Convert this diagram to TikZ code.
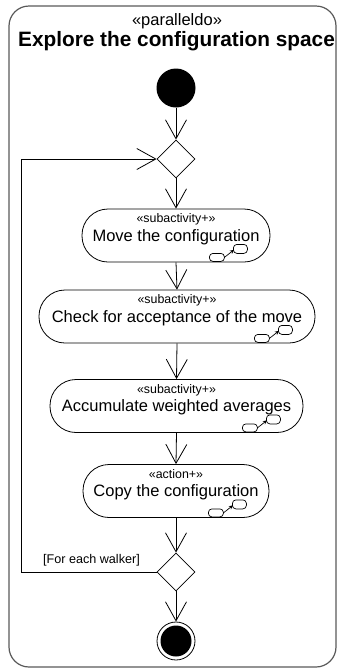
\documentclass[tikz,border=0pt]{standalone}
\usepackage{fontspec}
\setmainfont{Liberation Sans}
\usetikzlibrary{shapes.geometric,arrows.meta,calc}

% small "calls activity" mark in the lower right corner of a box
\newcommand{\subicon}[1]{%
  \draw[icon] ($(#1.south east)+(-61,-9)$) rectangle ++(15,8);
  \draw[icon] ($(#1.south east)+(-37,-18)$) rectangle ++(14,9);
  \draw[icon,-{Stealth[length=4pt,width=4pt]}] ($(#1.south east)+(-46,-5)$) -- ($(#1.south east)+(-36.5,-12.5)$);
}

\begin{document}
\begin{tikzpicture}[x=1pt,y=-1pt]
    \tikzstyle{activity}=[draw, line width=0.8pt, rounded corners=26pt, minimum height=53pt, inner sep=0pt, font=\fontsize{16.5}{18}\selectfont, text height=12pt, text depth=1pt];
    \tikzstyle{stereo}=[font=\fontsize{12.4}{14}\selectfont, anchor=base, inner sep=0pt];
    \tikzstyle{branch}=[draw, line width=0.8pt, diamond, minimum size=38pt, inner sep=0pt];
    \tikzstyle{flow}=[draw, line width=0.8pt, -{Straight Barb[length=19pt,width=21pt]}];
    \tikzstyle{icon}=[draw, line width=0.7pt, rounded corners=3.5pt];
    \useasboundingbox (0,0) rectangle (337,670);
    % frame
    \draw[black!65, line width=1.2pt, rounded corners=20pt] (9,6) rectangle (336,667);
    \node[font=\fontsize{16.5}{18}\selectfont, anchor=base, inner sep=0pt] (kind) at (177,25) {«paralleldo»};
    \node[font=\bfseries\fontsize{20.8}{22}\selectfont, anchor=base, inner sep=0pt] (title) at (176.5,46) {Explore the configuration space};
    % nodes
    \node[circle, fill=black, minimum size=39pt, inner sep=0pt] (start) at (176,88) {};
    \node[branch] (merge) at (176,159) {};
    \node[activity, minimum width=188pt] (move) at (176,235.5) {Move the configuration};
    \node[activity, minimum width=276pt] (check) at (177,316.5) {Check for acceptance of the move};
    \node[activity, minimum width=253pt] (accum) at (176.5,406) {Accumulate weighted averages};
    \node[activity, minimum width=186pt] (copy) at (176,491) {Copy the configuration};
    \node[branch] (decide) at (176,572) {};
    \node[circle, draw, line width=0.8pt, minimum size=38pt, inner sep=0pt] (stop) at (176,641) {};
    \node[circle, fill=black, minimum size=31pt, inner sep=0pt] (stopdot) at (stop) {};
    % stereotypes
    \node[stereo] (moveS) at ($(move.north)+(0,14)$) {«subactivity+»};
    \node[stereo] (checkS) at ($(check.north)+(0,14)$) {«subactivity+»};
    \node[stereo] (accumS) at ($(accum.north)+(0,14)$) {«subactivity+»};
    \node[stereo] (copyS) at ($(copy.north)+(0,14)$) {«action+»};
    \subicon{move}
    \subicon{check}
    \subicon{accum}
    \subicon{copy}
    % flows
    \draw[flow] (start) -- (merge.north);
    \draw[flow] (merge.south) -- (move.north);
    \draw[flow] (move.south) -- (check.north);
    \draw[flow] (check.south) -- (accum.north);
    \draw[flow] (accum.south) -- (copy.north);
    \draw[flow] (copy.south) -- (decide.north);
    \draw[flow] (decide.south) -- (stop.north);
    \coordinate (loop) at (21,572);
    \draw[flow] (decide.west) -- (loop) |- (merge.west);
    \node[font=\fontsize{12.6}{14}\selectfont, anchor=base, inner sep=0pt] (guard) at (91.5,563) {[For each walker]};
\end{tikzpicture}
\end{document}
